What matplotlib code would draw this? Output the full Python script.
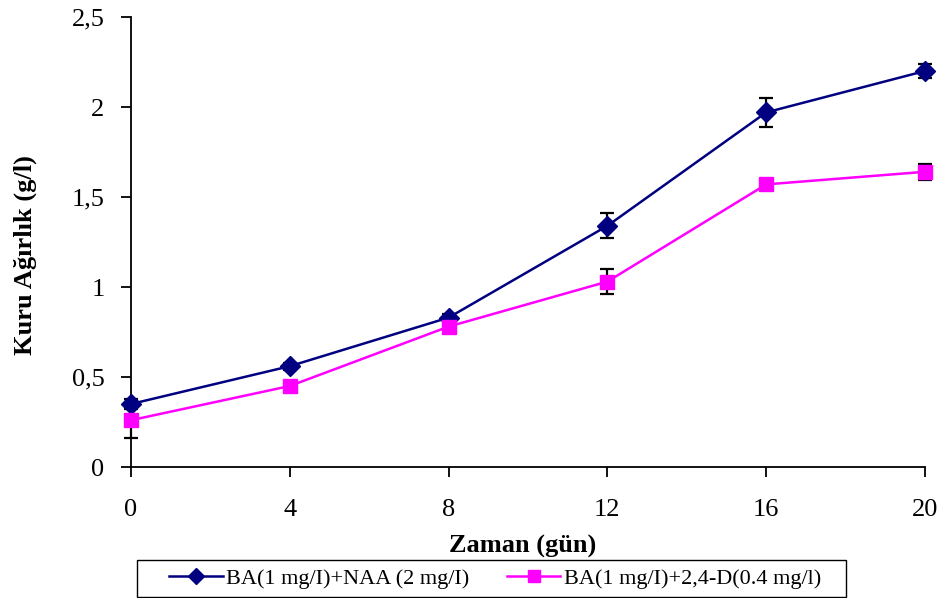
import matplotlib
matplotlib.use('Agg')
import matplotlib.pyplot as plt
from matplotlib.patches import Rectangle
import numpy as np

plt.rcParams['font.family'] = ['Liberation Serif', 'DejaVu Serif']

gun = [0, 4, 8, 12, 16, 20]
naa = [0.35, 0.56, 0.83, 1.34, 1.97, 2.20]
naa_err = [0.03, 0.02, 0.02, 0.07, 0.08, 0.04]
d24 = [0.26, 0.45, 0.78, 1.03, 1.57, 1.64]
d24_err = [0.10, 0.02, 0.02, 0.07, 0.02, 0.045]
lbl_naa = 'BA(1 mg/I)+NAA (2 mg/I)'
lbl_d24 = 'BA(1 mg/I)+2,4-D(0.4 mg/l)'

W, H = 945, 598
fig = plt.figure(figsize=(W/100, H/100), dpi=100)
ax = fig.add_axes([131/W, 1-467/H, 794/W, 450/H])

ax.plot(gun, naa, color='#000080', lw=1.8, marker='D', ms=10, label=lbl_naa, zorder=3, clip_on=False)
ax.plot(gun, d24, color='#FF00FF', lw=1.8, marker='s', ms=10, label=lbl_d24, zorder=3, clip_on=False)
# error bars sit behind the markers
for vals, errs in [(naa, naa_err), (d24, d24_err)]:
    eb = ax.errorbar(gun, vals, yerr=errs, fmt='none', ecolor='black', elinewidth=1.6,
                     capsize=5, capthick=1.6, zorder=2.5)
    for art in eb.lines[1] + eb.lines[2]:
        art.set_clip_on(False)

ax.set_xlim(0, 20)
ax.set_ylim(0, 2.5)
ax.set_xticks(gun)
ax.set_yticks([0, 0.5, 1, 1.5, 2, 2.5])
ax.set_yticklabels(['0', '0,5', '1', '1,5', '2', '2,5'])
ax.spines['top'].set_visible(False)
ax.spines['right'].set_visible(False)
for s in ['left', 'bottom']:
    ax.spines[s].set_linewidth(1.3)
ax.tick_params(direction='out', length=7, width=1.3, labelsize=19)
ax.tick_params(axis='y', pad=12)
ax.tick_params(axis='x', pad=16)

ax.set_xlabel('Zaman (gün)', fontsize=19, fontweight='bold')
ax.xaxis.set_label_coords(0.493, -(535-467)/450)
ax.set_ylabel('Kuru Ağırlık (g/l)', fontsize=19, fontweight='bold')
ax.yaxis.set_label_coords((37-131)/794, 0.471)

# legend box drawn at the bottom like the excel one
fig.patches.append(Rectangle((137/W, 1-597/H), (846-137)/W, 37/H, transform=fig.transFigure,
                             fill=False, ec='black', lw=1))
fig.legend(loc='center', bbox_to_anchor=(495/W, 1-578.5/H), ncol=2, fontsize=16,
           frameon=False, columnspacing=1.7, handlelength=2.4, handletextpad=0.15,
           borderpad=0.2, markerscale=0.8)

fig.savefig('out.png', dpi=100)
